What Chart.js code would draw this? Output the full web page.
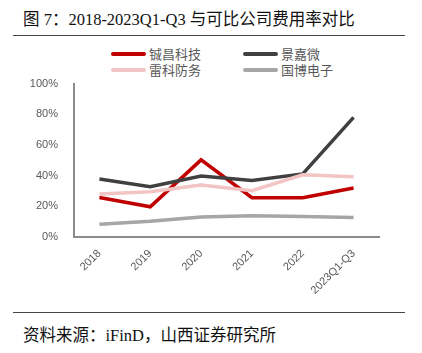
<!DOCTYPE html>
<html>
<head>
<meta charset="utf-8">
<script src="https://cdn.jsdelivr.net/npm/chart.js@4"></script>
<style>
  html, body { margin: 0; padding: 0; background: #fff; }
  body { width: 422px; height: 353px; position: relative; overflow: hidden; }
  .title { position: absolute; left: 23px; top: 6px; font-size: 16.5px; color: #111;
    font-family: "Liberation Serif", "Noto Sans CJK SC", serif; white-space: nowrap; }
  .rule { position: absolute; left: 13px; width: 392px; height: 1px; background: #444; }
  .legend { position: absolute; left: 0; top: 0; font-family: "Noto Sans CJK SC", sans-serif;
    font-size: 13px; color: #595959; }
  .item { position: absolute; white-space: nowrap; }
  .item i { position: absolute; left: 0; width: 35px; height: 4px; border-radius: 2px; }
  .item span { position: absolute; left: 38px; }
  .source { position: absolute; left: 23px; top: 322px; font-size: 16.5px; color: #111;
    font-family: "Liberation Serif", "Noto Sans CJK SC", serif; white-space: nowrap; }
  #wrap { position: absolute; left: 0; top: 69px; width: 422px; height: 243px; }
</style>
</head>
<body>
<div class="title">图 7：2018-2023Q1-Q3 与可比公司费用率对比</div>
<div class="rule" style="top:35px"></div>
<div class="legend" id="legend"></div>
<div id="wrap"><canvas id="c"></canvas></div>
<div class="rule" style="top:312px"></div>
<div class="source">资料来源：iFinD，山西证券研究所</div>
<script>
const categories = ["2018", "2019", "2020", "2021", "2022", "2023Q1-Q3"];
const names = ["铖昌科技", "景嘉微", "雷科防务", "国博电子"];
const colors = ["#C00000", "#404040", "#F2C4C4", "#A6A6A6"];
const chengchang = [25.8, 19.7, 50.3, 25.6, 25.6, 31.9];
const jingjiawei = [37.8, 32.8, 39.8, 36.9, 41.1, 78.0];
const leike = [28.0, 29.5, 33.9, 30.2, 40.5, 39.3];
const guobo = [8.3, 10.3, 13.1, 13.8, 13.4, 12.7];
const yTicks = [0, 20, 40, 60, 80, 100];

const seriesValues = [chengchang, jingjiawei, leike, guobo];
// draw order: grey lines behind, red on top
const drawOrder = [3, 2, 1, 0];

const legendPos = [
  { x: 111, y: 46 }, { x: 243, y: 46 },
  { x: 111, y: 62 }, { x: 243, y: 62 },
];
const legend = document.getElementById("legend");
names.forEach((n, i) => {
  const el = document.createElement("div");
  el.className = "item";
  el.style.left = legendPos[i].x + "px";
  el.style.top = legendPos[i].y + "px";
  el.innerHTML = '<i style="top:6px;background:' + colors[i] + '"></i><span style="top:-2px">' + n + "</span>";
  legend.appendChild(el);
});

new Chart(document.getElementById("c"), {
  type: "line",
  data: {
    labels: categories,
    datasets: seriesValues.map((vals, i) => ({
      label: names[i],
      data: vals,
      borderColor: colors[i],
      backgroundColor: colors[i],
      borderWidth: 3.5,
      pointRadius: 0,
      tension: 0,
      order: drawOrder[i],
    })),
  },
  options: {
    responsive: true,
    maintainAspectRatio: false,
    animation: false,
    layout: { padding: { top: 2, right: 43, left: 0, bottom: 0 } },
    plugins: { legend: { display: false }, tooltip: { enabled: false } },
    scales: {
      x: {
        offset: true,
        grid: { display: false },
        border: { display: true, color: "#8c8c8c", width: 2 },
        ticks: {
          color: "#595959",
          font: { family: "Liberation Sans", size: 11 },
          minRotation: 45,
          maxRotation: 45,
          padding: 2,
        },
        afterFit: (s) => { s.height = 75; },
      },
      y: {
        min: 0,
        max: 100,
        grid: { display: false },
        border: { display: true, color: "#8c8c8c", width: 2 },
        afterBuildTicks: (s) => { s.ticks = yTicks.map((v) => ({ value: v })); },
        ticks: {
          color: "#595959",
          font: { family: "Liberation Sans", size: 11 },
          padding: 8,
          callback: (v) => v + "%",
        },
        afterFit: (s) => { s.width = 74; },
      },
    },
  },
});
</script>
</body>
</html>
